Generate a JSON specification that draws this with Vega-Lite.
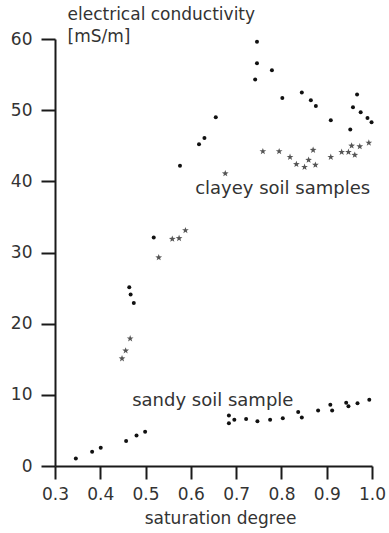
{
  "$schema": "https://vega.github.io/schema/vega-lite/v6.json",
  "autosize": "none",
  "width": 317,
  "height": 427,
  "padding": {"left": 55, "top": 39, "right": 17, "bottom": 67},
  "background": "white",
  "config": {
    "view": {"stroke": null},
    "font": "DejaVu Sans",
    "axis": {
      "grid": false,
      "domainColor": "#1a1a1a",
      "domainWidth": 2,
      "tickColor": "#1a1a1a",
      "tickWidth": 2,
      "labelFont": "DejaVu Sans",
      "labelFontSize": 17,
      "labelColor": "#333333",
      "titleFont": "DejaVu Sans",
      "titleFontSize": 17,
      "titleFontWeight": "normal",
      "titleColor": "#333333"
    }
  },
  "datasets": {
    "points": [
      {"s": 0.464, "ec": 25.1, "sample": "clayey", "marker": "dot"},
      {"s": 0.467, "ec": 24.1, "sample": "clayey", "marker": "dot"},
      {"s": 0.474, "ec": 22.9, "sample": "clayey", "marker": "dot"},
      {"s": 0.518, "ec": 32.1, "sample": "clayey", "marker": "dot"},
      {"s": 0.576, "ec": 42.2, "sample": "clayey", "marker": "dot"},
      {"s": 0.618, "ec": 45.2, "sample": "clayey", "marker": "dot"},
      {"s": 0.630, "ec": 46.1, "sample": "clayey", "marker": "dot"},
      {"s": 0.655, "ec": 49.0, "sample": "clayey", "marker": "dot"},
      {"s": 0.746, "ec": 59.6, "sample": "clayey", "marker": "dot"},
      {"s": 0.746, "ec": 56.6, "sample": "clayey", "marker": "dot"},
      {"s": 0.742, "ec": 54.3, "sample": "clayey", "marker": "dot"},
      {"s": 0.779, "ec": 55.6, "sample": "clayey", "marker": "dot"},
      {"s": 0.802, "ec": 51.7, "sample": "clayey", "marker": "dot"},
      {"s": 0.845, "ec": 52.5, "sample": "clayey", "marker": "dot"},
      {"s": 0.865, "ec": 51.4, "sample": "clayey", "marker": "dot"},
      {"s": 0.876, "ec": 50.6, "sample": "clayey", "marker": "dot"},
      {"s": 0.909, "ec": 48.6, "sample": "clayey", "marker": "dot"},
      {"s": 0.952, "ec": 47.3, "sample": "clayey", "marker": "dot"},
      {"s": 0.958, "ec": 50.4, "sample": "clayey", "marker": "dot"},
      {"s": 0.967, "ec": 52.2, "sample": "clayey", "marker": "dot"},
      {"s": 0.975, "ec": 49.7, "sample": "clayey", "marker": "dot"},
      {"s": 0.990, "ec": 48.9, "sample": "clayey", "marker": "dot"},
      {"s": 0.999, "ec": 48.3, "sample": "clayey", "marker": "dot"},
      {"s": 0.448, "ec": 15.1, "sample": "clayey", "marker": "star"},
      {"s": 0.456, "ec": 16.2, "sample": "clayey", "marker": "star"},
      {"s": 0.466, "ec": 17.9, "sample": "clayey", "marker": "star"},
      {"s": 0.529, "ec": 29.3, "sample": "clayey", "marker": "star"},
      {"s": 0.559, "ec": 31.9, "sample": "clayey", "marker": "star"},
      {"s": 0.574, "ec": 32.0, "sample": "clayey", "marker": "star"},
      {"s": 0.588, "ec": 33.1, "sample": "clayey", "marker": "star"},
      {"s": 0.676, "ec": 41.1, "sample": "clayey", "marker": "star"},
      {"s": 0.759, "ec": 44.2, "sample": "clayey", "marker": "star"},
      {"s": 0.795, "ec": 44.2, "sample": "clayey", "marker": "star"},
      {"s": 0.819, "ec": 43.4, "sample": "clayey", "marker": "star"},
      {"s": 0.833, "ec": 42.4, "sample": "clayey", "marker": "star"},
      {"s": 0.851, "ec": 42.0, "sample": "clayey", "marker": "star"},
      {"s": 0.860, "ec": 43.0, "sample": "clayey", "marker": "star"},
      {"s": 0.870, "ec": 44.4, "sample": "clayey", "marker": "star"},
      {"s": 0.875, "ec": 42.3, "sample": "clayey", "marker": "star"},
      {"s": 0.909, "ec": 43.4, "sample": "clayey", "marker": "star"},
      {"s": 0.933, "ec": 44.1, "sample": "clayey", "marker": "star"},
      {"s": 0.948, "ec": 44.1, "sample": "clayey", "marker": "star"},
      {"s": 0.955, "ec": 45.0, "sample": "clayey", "marker": "star"},
      {"s": 0.962, "ec": 43.7, "sample": "clayey", "marker": "star"},
      {"s": 0.973, "ec": 44.9, "sample": "clayey", "marker": "star"},
      {"s": 0.993, "ec": 45.4, "sample": "clayey", "marker": "star"},
      {"s": 0.346, "ec": 1.05, "sample": "sandy", "marker": "dot"},
      {"s": 0.382, "ec": 2.0, "sample": "sandy", "marker": "dot"},
      {"s": 0.401, "ec": 2.55, "sample": "sandy", "marker": "dot"},
      {"s": 0.457, "ec": 3.5, "sample": "sandy", "marker": "dot"},
      {"s": 0.480, "ec": 4.3, "sample": "sandy", "marker": "dot"},
      {"s": 0.499, "ec": 4.8, "sample": "sandy", "marker": "dot"},
      {"s": 0.684, "ec": 7.1, "sample": "sandy", "marker": "dot"},
      {"s": 0.684, "ec": 6.0, "sample": "sandy", "marker": "dot"},
      {"s": 0.696, "ec": 6.5, "sample": "sandy", "marker": "dot"},
      {"s": 0.722, "ec": 6.6, "sample": "sandy", "marker": "dot"},
      {"s": 0.747, "ec": 6.3, "sample": "sandy", "marker": "dot"},
      {"s": 0.775, "ec": 6.5, "sample": "sandy", "marker": "dot"},
      {"s": 0.803, "ec": 6.7, "sample": "sandy", "marker": "dot"},
      {"s": 0.837, "ec": 7.6, "sample": "sandy", "marker": "dot"},
      {"s": 0.845, "ec": 6.8, "sample": "sandy", "marker": "dot"},
      {"s": 0.881, "ec": 7.8, "sample": "sandy", "marker": "dot"},
      {"s": 0.908, "ec": 8.6, "sample": "sandy", "marker": "dot"},
      {"s": 0.912, "ec": 7.8, "sample": "sandy", "marker": "dot"},
      {"s": 0.943, "ec": 8.9, "sample": "sandy", "marker": "dot"},
      {"s": 0.948, "ec": 8.4, "sample": "sandy", "marker": "dot"},
      {"s": 0.968, "ec": 8.8, "sample": "sandy", "marker": "dot"},
      {"s": 0.994, "ec": 9.3, "sample": "sandy", "marker": "dot"}
    ],
    "labels": [
      {"s": 0.6095, "ec": 38.27, "label": "clayey soil samples"},
      {"s": 0.4705, "ec": 8.4, "label": "sandy soil sample"}
    ]
  },
  "encoding": {
    "x": {
      "field": "s",
      "type": "quantitative",
      "scale": {"domain": [0.3, 1.0], "nice": false, "zero": false},
      "axis": {
        "title": "saturation degree",
        "values": [0.3, 0.4, 0.5, 0.6, 0.7, 0.8, 0.9, 1.0],
        "format": ".1f",
        "tickSize": 13,
        "labelPadding": 7,
        "labelFlush": false,
        "labelOverlap": false,
        "titleX": 165,
        "titleY": 57.5,
        "titleAlign": "center",
        "titleBaseline": "alphabetic"
      }
    },
    "y": {
      "field": "ec",
      "type": "quantitative",
      "scale": {"domain": [0, 60], "nice": false},
      "axis": {
        "title": ["electrical conductivity", "[mS/m]"],
        "values": [0, 10, 20, 30, 40, 50, 60],
        "tickSize": 14,
        "labelPadding": 9,
        "labelFlush": false,
        "labelOverlap": false,
        "titleAngle": 0,
        "titleAlign": "left",
        "titleBaseline": "alphabetic",
        "titleX": 12,
        "titleY": -19.5,
        "titleLineHeight": 22
      }
    }
  },
  "layer": [
    {
      "data": {"name": "points"},
      "transform": [{"filter": "datum.marker == 'dot'"}],
      "mark": {"type": "point", "shape": "circle", "filled": true, "color": "#111111", "size": 16, "opacity": 1}
    },
    {
      "data": {"name": "points"},
      "transform": [{"filter": "datum.marker == 'star'"}],
      "mark": {
        "type": "point",
        "shape": "M0,-1L0.24,-0.33L0.95,-0.31L0.38,0.12L0.59,0.81L0,0.4L-0.59,0.81L-0.38,0.12L-0.95,-0.31L-0.24,-0.33Z",
        "filled": true,
        "color": "#555555",
        "size": 50,
        "opacity": 1
      }
    },
    {
      "data": {"name": "labels"},
      "mark": {"type": "text", "align": "left", "baseline": "alphabetic", "font": "DejaVu Sans", "fontSize": 18, "color": "#333333"},
      "encoding": {"text": {"field": "label", "type": "nominal"}}
    }
  ]
}
